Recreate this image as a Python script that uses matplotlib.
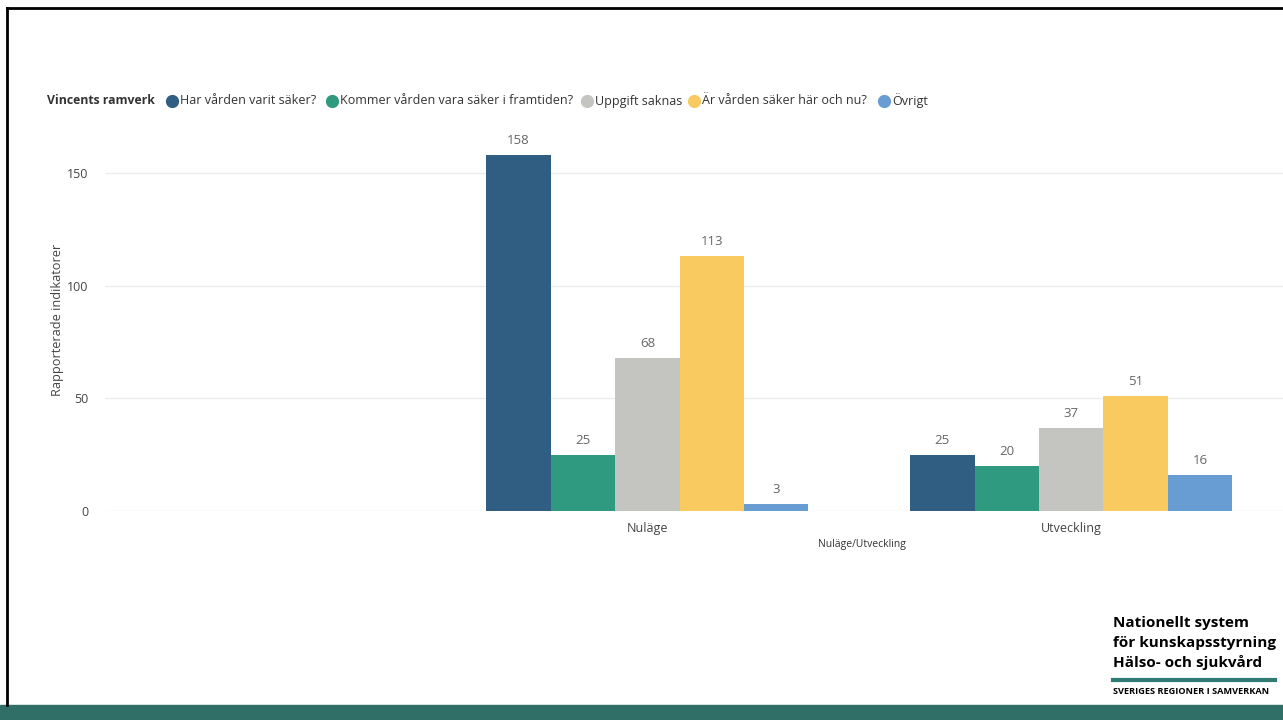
import matplotlib.pyplot as plt
import numpy as np
from matplotlib.patches import Rectangle
from matplotlib.lines import Line2D

plt.rcParams['font.family'] = ['Open Sans', 'DejaVu Sans']

categories = ['Nuläge', 'Utveckling']
series = ['Har vården varit säker?', 'Kommer vården vara säker i framtiden?',
          'Uppgift saknas', 'Är vården säker här och nu?', 'Övrigt']
values = [
    [158, 25],
    [25, 20],
    [68, 37],
    [113, 51],
    [3, 16],
]
colors = ['#305e82', '#309a80', '#c4c4c0', '#f9ca60', '#689dd4']

W, H = 1283, 720
fig = plt.figure(figsize=(W / 100, H / 100), dpi=100)

def fx(px):
    return px / W

def fy(py):
    return 1 - py / H

# slide frame and footer band
fig.add_artist(Line2D([fx(7), fx(7)], [fy(8), fy(705)], color='black', lw=2))
fig.add_artist(Line2D([fx(7), 1], [fy(8), fy(8)], color='black', lw=2))
fig.add_artist(Rectangle((0, 0), 1, fy(705), color='#2f6f68', transform=fig.transFigure))

ax = fig.add_axes([fx(105), fy(511), 1 - fx(105), fy(140) - fy(511)])
x = np.arange(len(categories))
bw = 0.152
for i, (name, vals) in enumerate(zip(series, values)):
    pos = x + (i - 2) * bw
    bars = ax.bar(pos, vals, width=bw, color=colors[i], label=name)
    for b, v in zip(bars, vals):
        ax.text(b.get_x() + b.get_width() / 2, v + 3.5, str(v), ha='center',
                va='bottom', fontsize=9.5, color='#666666')

ax.set_xlim(-1.28, 1.5)
ax.set_ylim(0, 164.6)
ax.set_yticks([0, 50, 100, 150])
ax.set_xticks(x)
ax.set_xticklabels(categories)
ax.tick_params(axis='both', length=0, labelsize=9, colors='#444444')
ax.tick_params(axis='y', pad=12)
ax.tick_params(axis='x', pad=8)
ax.grid(axis='y', color='#ececec', lw=1)
ax.set_axisbelow(True)
for s in ax.spines.values():
    s.set_visible(False)

fig.text(fx(57), fy(320), 'Rapporterade indikatorer', rotation=90, ha='center',
         va='center', fontsize=9.2, color='#444444')
fig.text(fx(862), fy(545), 'Nuläge/Utveckling', ha='center', va='center',
         fontsize=7.5, color='#333333')

# legend row
fig.text(fx(47), fy(101), 'Vincents ramverk', ha='left', va='center',
         fontsize=8.8, fontweight='bold', color='#333333')
dot_x = [172, 332, 587, 694, 884]
for dx, name, c in zip(dot_x, series, colors):
    fig.add_artist(Line2D([fx(dx)], [fy(101)], marker='o', markersize=8.5,
                          color=c, linestyle='none'))
    fig.text(fx(dx + 8), fy(101), name, ha='left', va='center', fontsize=9.0,
             color='#333333')

# organisation mark
for i, line in enumerate(['Nationellt system', 'för kunskapsstyrning', 'Hälso- och sjukvård']):
    fig.text(fx(1113), fy(623 + i * 19.5), line, ha='left', va='center',
             fontsize=11, fontweight='bold', color='black')
fig.add_artist(Line2D([fx(1113), fx(1275)], [fy(680), fy(680)], color='#2f7a72', lw=3))
fig.text(fx(1113), fy(692), 'SVERIGES REGIONER I SAMVERKAN', ha='left', va='center',
         fontsize=6.6, fontweight='bold', color='black')

fig.savefig('out.png', dpi=100)
